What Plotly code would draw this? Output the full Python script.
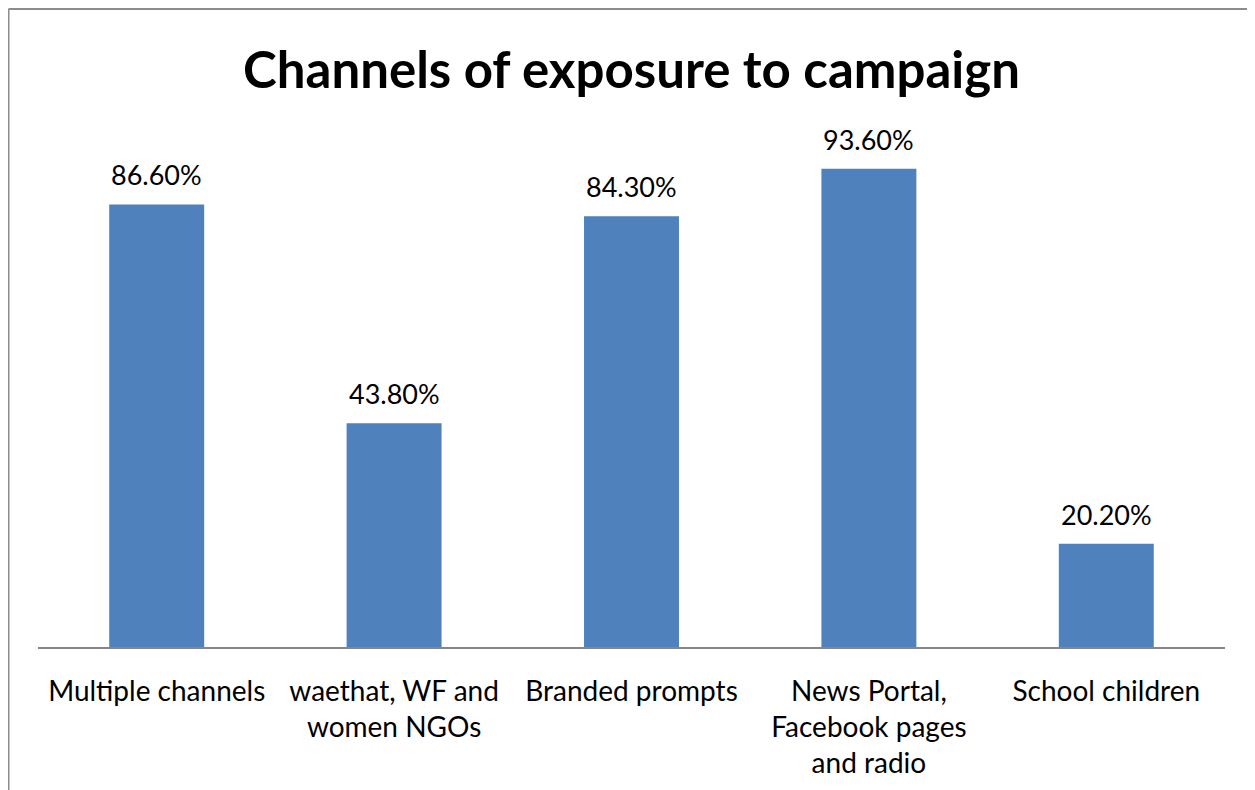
import plotly.graph_objects as go

categories = ["Multiple channels", "waethat, WF and<br>women NGOs", "Branded prompts",
              "News Portal,<br>Facebook pages<br>and radio", "School children"]
values = [86.6, 43.8, 84.3, 93.6, 20.2]
labels = ["86.60%", "43.80%", "84.30%", "93.60%", "20.20%"]
title = "Channels of exposure to campaign"

W, H = 1247, 782
L, R, T, B = 30, 30, 128, 143
pw, ph = W - L - R, H - T - B

fig = go.Figure()
fig.add_trace(go.Bar(x=categories, y=values, marker=dict(color="#4F81BD", line=dict(width=0)),
                     width=0.4, hoverinfo="skip"))

for c, v, t in zip(categories, values, labels):
    fig.add_annotation(x=c, y=v, text=t, showarrow=False, yanchor="bottom", yshift=11,
                       font=dict(family="Lato", size=27, color="black"))

fx = (0.5 - L) / pw
fy = 1 + (T - 1) / ph
fig.add_shape(type="line", xref="paper", yref="paper",
              x0=fx, x1=fx, y0=fy, y1=-(B + 5) / ph,
              line=dict(color="#8C8C8C", width=2))
fig.add_shape(type="line", xref="paper", yref="paper",
              x0=fx, x1=(W + 5 - L) / pw, y0=fy, y1=fy,
              line=dict(color="#8C8C8C", width=2))

fig.update_layout(
    width=W, height=H,
    margin=dict(l=L, r=R, t=T, b=B),
    paper_bgcolor="white", plot_bgcolor="white",
    showlegend=False,
    title=dict(text="<b>" + title + "</b>", x=(L + pw / 2) / W,
               xanchor="center", y=1 - 62 / H, yanchor="middle",
               font=dict(family="Lato", size=51, color="black")),
    xaxis=dict(showline=True, linecolor="#868686", linewidth=2, ticks="outside", ticklen=18,
               tickcolor="rgba(0,0,0,0)", tickfont=dict(family="Lato", size=28, color="black"),
               showgrid=False, zeroline=False),
    yaxis=dict(range=[0, 100], visible=False, showgrid=False, zeroline=False),
)

fig.write_html("out.html")
